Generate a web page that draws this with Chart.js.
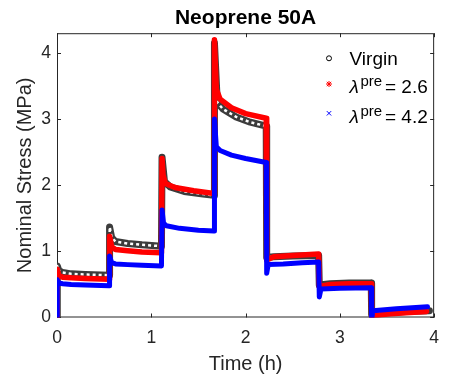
<!DOCTYPE html>
<html>
<head>
<meta charset="utf-8">
<script src="https://cdn.jsdelivr.net/npm/chart.js@4.4.1/dist/chart.umd.min.js"></script>
<style>
  html, body { margin: 0; padding: 0; background: #fff; }
</style>
</head>
<body>
<canvas id="chart" width="449" height="380"></canvas>
<script>
// step relaxation data, time in hours, nominal stress in MPa
var virginTime = [0, 0.003, 0.02, 0.06, 0.15, 0.3, 0.553,
                  0.556, 0.559, 0.58, 0.62, 0.75, 0.9, 1.108,
                  1.111, 1.114, 1.14, 1.2, 1.35, 1.55, 1.664,
                  1.667, 1.670, 1.70, 1.76, 1.9, 2.05, 2.219,
                  2.222, 2.226, 2.3, 2.5, 2.775,
                  2.778, 2.782, 2.9, 3.1, 3.330,
                  3.333, 3.337, 3.5, 3.7, 3.95];
var virginStress = [0, 0.77, 0.70, 0.67, 0.65, 0.64, 0.63,
                    0.63, 1.36, 1.20, 1.14, 1.11, 1.09, 1.07,
                    1.07, 2.42, 2.05, 1.97, 1.90, 1.86, 1.84,
                    1.84, 4.15, 3.25, 3.15, 3.03, 2.95, 2.89,
                    2.89, 0.90, 0.91, 0.92, 0.93,
                    0.93, 0.48, 0.50, 0.51, 0.51,
                    0.51, 0.03, 0.06, 0.08, 0.09];

var red26Time = [0, 0.003, 0.02, 0.06, 0.15, 0.3, 0.553,
                 0.556, 0.559, 0.58, 0.62, 0.75, 0.9, 1.108,
                 1.111, 1.114, 1.125, 1.15, 1.25, 1.45, 1.664,
                 1.667, 1.670, 1.69, 1.73, 1.85, 2.0, 2.219,
                 2.222, 2.226, 2.3, 2.5, 2.775,
                 2.778, 2.782, 2.9, 3.1, 3.330,
                 3.333, 3.337, 3.5, 3.7, 3.92];
var red26Stress = [0, 0.72, 0.62, 0.60, 0.59, 0.58, 0.57,
                   0.57, 1.22, 1.06, 1.02, 1.00, 0.98, 0.97,
                   0.97, 2.40, 2.15, 2.02, 1.96, 1.91, 1.87,
                   1.87, 4.20, 3.45, 3.30, 3.17, 3.08, 3.01,
                   3.01, 0.86, 0.91, 0.93, 0.95,
                   0.95, 0.46, 0.49, 0.50, 0.50,
                   0.50, 0.01, 0.04, 0.06, 0.08];

var blue42Time = [0, 0.003, 0.02, 0.06, 0.15, 0.3, 0.553,
                  0.556, 0.559, 0.58, 0.62, 0.75, 0.9, 1.108,
                  1.111, 1.114, 1.13, 1.16, 1.3, 1.5, 1.664,
                  1.667, 1.670, 1.69, 1.73, 1.85, 2.0, 2.219,
                  2.222, 2.226, 2.24, 2.4, 2.6, 2.775,
                  2.778, 2.782, 2.80, 3.0, 3.330,
                  3.333, 3.337, 3.35, 3.6, 3.93];
var blue42Stress = [0, 0.56, 0.51, 0.50, 0.49, 0.48, 0.47,
                    0.47, 0.92, 0.82, 0.80, 0.79, 0.78, 0.77,
                    0.77, 1.62, 1.42, 1.38, 1.34, 1.31, 1.30,
                    1.30, 3.00, 2.58, 2.52, 2.45, 2.40, 2.34,
                    2.34, 0.66, 0.79, 0.80, 0.82, 0.83,
                    0.83, 0.30, 0.42, 0.43, 0.44,
                    0.44, -0.05, 0.09, 0.12, 0.15];

var legendLabels = ['Virgin', '2.6', '4.2'];

var font = 'Liberation Sans, Arial, Helvetica, sans-serif';
var axisColor = '#262626';
var tickLen = 4;

function pts(t, s) {
    return t.map(function(v, i) { return { x: v, y: s[i] }; });
}

// MATLAB style box with inward ticks on all four sides
var boxPlugin = {
    id: 'box',
    beforeDatasetsDraw: function(chart) {
        var ctx = chart.ctx, a = chart.chartArea;
        var xs = chart.scales.x, ys = chart.scales.y;
        ctx.save();
        ctx.strokeStyle = axisColor;
        ctx.lineWidth = 1;
        ctx.strokeRect(a.left + 0.5, a.top + 0.5, a.right - a.left - 1, a.bottom - a.top - 1);
        ctx.beginPath();
        xs.ticks.forEach(function(t) {
            var px = Math.round(xs.getPixelForValue(t.value)) + 0.5;
            ctx.moveTo(px, a.bottom); ctx.lineTo(px, a.bottom - tickLen);
            ctx.moveTo(px, a.top); ctx.lineTo(px, a.top + tickLen);
        });
        ys.ticks.forEach(function(t) {
            var py = Math.round(ys.getPixelForValue(t.value)) + 0.5;
            ctx.moveTo(a.left, py); ctx.lineTo(a.left + tickLen, py);
            ctx.moveTo(a.right, py); ctx.lineTo(a.right - tickLen, py);
        });
        ctx.stroke();
        ctx.restore();
    }
};

// legend with superscripts, which the built-in legend can't do
var legendPlugin = {
    id: 'texLegend',
    afterDraw: function(chart) {
        var ctx = chart.ctx;
        var mx = 329, tx = 349.5;
        ctx.save();
        ctx.lineWidth = 1;
        // virgin: open circle
        ctx.strokeStyle = '#000';
        ctx.beginPath();
        ctx.arc(mx, 58.3, 2.5, 0, Math.PI * 2);
        ctx.stroke();
        // 2.6: asterisk
        ctx.strokeStyle = '#ff0000';
        ctx.beginPath();
        var r = 3, y = 84;
        ctx.moveTo(mx - r, y); ctx.lineTo(mx + r, y);
        ctx.moveTo(mx, y - r); ctx.lineTo(mx, y + r);
        ctx.moveTo(mx - 2.2, y - 2.2); ctx.lineTo(mx + 2.2, y + 2.2);
        ctx.moveTo(mx - 2.2, y + 2.2); ctx.lineTo(mx + 2.2, y - 2.2);
        ctx.stroke();
        // 4.2: cross
        ctx.strokeStyle = '#0000ff';
        ctx.beginPath();
        y = 113.3;
        ctx.moveTo(mx - 2.2, y - 2.2); ctx.lineTo(mx + 2.2, y + 2.2);
        ctx.moveTo(mx - 2.2, y + 2.2); ctx.lineTo(mx + 2.2, y - 2.2);
        ctx.stroke();

        ctx.fillStyle = '#000';
        ctx.textBaseline = 'alphabetic';
        ctx.textAlign = 'left';
        ctx.font = '19px ' + font;
        ctx.fillText(legendLabels[0], tx, 65);

        [[93.3, legendLabels[1]], [123.3, legendLabels[2]]].forEach(function(row) {
            var base = row[0];
            ctx.font = 'italic 19px ' + font;
            ctx.fillText('\u03bb', tx, base);
            ctx.font = '15px ' + font;
            ctx.fillText('pre', 360.5, base - 7);
            ctx.font = '19px ' + font;
            ctx.fillText('= ' + row[1], 385, base);
        });
        ctx.restore();
    }
};

var lineStyle = {
    showLine: true,
    pointRadius: 0,
    pointHoverRadius: 0,
    tension: 0,
    borderJoinStyle: 'round',
    borderCapStyle: 'round'
};

function series(label, t, s, color, width, extra) {
    var d = Object.assign({}, lineStyle, {
        label: label,
        data: pts(t, s),
        borderColor: color,
        backgroundColor: color,
        borderWidth: width
    });
    return Object.assign(d, extra || {});
}

new Chart(document.getElementById('chart').getContext('2d'), {
    type: 'scatter',
    data: {
        // index 0 is drawn on top
        datasets: [
            series('lambda 4.2', blue42Time, blue42Stress, '#0000ff', 5),
            series('lambda 2.6', red26Time, red26Stress, '#ff0000', 5.5),
            series('Virgin inner', virginTime, virginStress, '#ffffff', 2.5, { borderDash: [3, 3], borderCapStyle: 'butt' }),
            series('Virgin', virginTime, virginStress, '#3c3c3c', 7)
        ]
    },
    options: {
        responsive: false,
        animation: false,
        layout: { padding: { left: 0, right: 6, top: 0, bottom: 0 } },
        plugins: {
            legend: { display: false },
            tooltip: { enabled: false },
            title: {
                display: true,
                text: 'Neoprene 50A',
                color: '#000',
                fullSize: false,
                font: { family: font, size: 21, weight: 'bold' },
                padding: { top: 6, bottom: 2 }
            }
        },
        scales: {
            x: {
                type: 'linear',
                min: 0,
                max: 4,
                afterFit: function(s) { s.height = 62.5; },
                border: { display: false },
                grid: { display: true, drawOnChartArea: false, drawTicks: false },
                ticks: {
                    stepSize: 1,
                    includeBounds: false,
                    maxRotation: 0,
                    padding: 10,
                    color: axisColor,
                    font: { family: font, size: 17.5 }
                },
                title: {
                    display: true,
                    text: 'Time (h)',
                    color: axisColor,
                    font: { family: font, size: 20 },
                    padding: { top: 0, bottom: 4 }
                }
            },
            y: {
                type: 'linear',
                min: -0.012,
                max: 4.3,
                afterFit: function(s) { s.width = 57; },
                border: { display: false },
                grid: { display: true, drawOnChartArea: false, drawTicks: false },
                ticks: {
                    stepSize: 1,
                    includeBounds: false,
                    padding: 6,
                    color: axisColor,
                    font: { family: font, size: 17.5 }
                },
                title: {
                    display: true,
                    text: 'Nominal Stress (MPa)',
                    color: axisColor,
                    font: { family: font, size: 20 },
                    padding: { top: 13, bottom: 0 }
                }
            }
        }
    },
    plugins: [boxPlugin, legendPlugin]
});
</script>
</body>
</html>
